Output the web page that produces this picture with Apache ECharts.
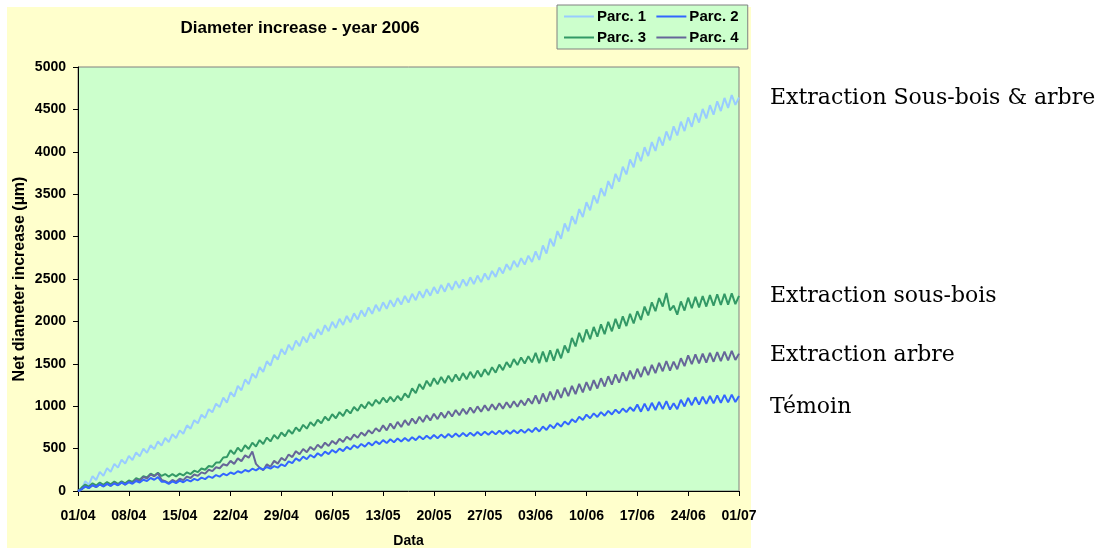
<!DOCTYPE html>
<html>
<head>
<meta charset="utf-8">
<script src="https://cdn.jsdelivr.net/npm/echarts@6/dist/echarts.min.js"></script>
<style>
  html, body { margin: 0; padding: 0; background: #ffffff; }
  #chart { width: 1109px; height: 549px; }
</style>
</head>
<body>
<div id="chart"></div>
<script>
// Net stem diameter increase (µm), readings every 12 hours from 01/04/2006 00:00 to 01/07/2006 00:00
const weekTickLabels = ['01/04', '08/04', '15/04', '22/04', '29/04', '06/05', '13/05', '20/05', '27/05', '03/06', '10/06', '17/06', '24/06', '01/07'];
const seriesNames = ['Parc. 1', 'Parc. 2', 'Parc. 3', 'Parc. 4'];
const treatmentNotes = ['Extraction Sous-bois & arbre', 'Extraction sous-bois', 'Extraction arbre', 'Témoin'];

const parc1 = [0,15, 115,75, 175,130, 225,178, 270,225, 320,275, 370,323, 415,365, 455,408, 500,450,
  540,493, 585,535, 625,578, 670,623, 715,675, 775,735, 835,798, 900,862, 965,928, 1030,990,
  1100,1043, 1165,1113, 1240,1188, 1315,1260, 1385,1333, 1460,1405, 1530,1478, 1605,1550, 1675,1610, 1725,1660,
  1775,1708, 1820,1753, 1865,1798, 1910,1843, 1955,1885, 1995,1923, 2030,1958, 2065,1990, 2095,2023, 2130,2058,
  2165,2090, 2195,2120, 2225,2148, 2250,2173, 2275,2198, 2300,2223, 2325,2250, 2355,2278, 2380,2303, 2405,2328,
  2430,2350, 2450,2373, 2475,2395, 2495,2418, 2520,2440, 2540,2463, 2565,2490, 2595,2525, 2635,2565, 2675,2605,
  2715,2640, 2745,2670, 2775,2700, 2825,2725, 2895,2800, 2975,2885, 3065,2975, 3155,3063, 3240,3148, 3325,3230,
  3405,3310, 3485,3393, 3570,3478, 3655,3563, 3740,3648, 3825,3733, 3910,3818, 3995,3890, 4055,3950, 4115,4010,
  4175,4073, 4240,4135, 4300,4193, 4355,4245, 4405,4295, 4455,4345, 4505,4393, 4550,4438, 4595,4480, 4635,4518,
  4670,4553, 4640];

const parc2 = [0,20, 52,35, 68,48, 78,55, 83,60, 88,68, 98,75, 103,85, 118,100, 133,118,
  153,133, 163,110, 108,85, 113,93, 123,103, 133,113, 143,126, 158,140, 173,155, 188,170,
  203,185, 218,200, 233,215, 248,230, 263,243, 273,253, 283,263, 293,275, 315,292, 350,328,
  385,355, 405,375, 425,395, 445,415, 465,435, 484,452, 500,470, 520,490, 540,508, 555,523,
  570,538, 585,553, 600,565, 610,575, 620,583, 625,590, 635,600, 645,609, 652,616, 660,623,
  665,628, 672,635, 678,641, 683,646, 688,651, 695,658, 700,663, 705,668, 710,672, 713,675,
  717,680, 722,686, 730,695, 745,702, 760,720, 780,740, 800,760, 820,783, 845,810, 875,838,
  901,858, 915,873, 930,888, 945,903, 960,917, 973,930, 987,944, 1020,935, 1030,945, 1040,955,
  1050,965, 1060,960, 1035,965, 1075,997, 1098,1012, 1105,1019, 1113,1027, 1120,1033, 1127,1040, 1133,1045,
  1137,1049, 1120];

const parc3 = [0,40, 75,52, 90,65, 100,73, 105,78, 110,83, 115,90, 125,108, 150,133, 175,160,
  205,180, 215,178, 200,170, 200,173, 205,183, 220,200, 240,223, 265,250, 295,285, 335,335,
  395,400, 480,435, 510,465, 540,495, 570,525, 600,555, 630,585, 660,615, 690,645, 720,675,
  750,705, 780,735, 810,768, 840,798, 875,830, 905,858, 930,885, 960,915, 990,945, 1020,975,
  1050,1003, 1075,1028, 1100,1045, 1110,1055, 1120,1070, 1150,1100, 1210,1155, 1260,1200, 1300,1235, 1330,1258,
  1345,1273, 1360,1288, 1375,1303, 1390,1318, 1405,1333, 1420,1348, 1435,1368, 1460,1395, 1490,1425, 1520,1458,
  1555,1485, 1575,1503, 1590,1518, 1630,1508, 1645,1523, 1660,1538, 1675,1565, 1715,1630, 1805,1705, 1865,1755,
  1905,1790, 1935,1820, 1965,1850, 1995,1883, 2030,1915, 2060,1945, 2090,1975, 2120,2018, 2175,2070, 2225,2120,
  2275,2175, 2335,2130, 2185,2080, 2235,2128, 2280,2155, 2290,2165, 2300,2175, 2310,2185, 2320,2193, 2325,2198,
  2330,2203, 2300];

const parc4 = [0,20, 55,33, 70,45, 80,54, 87,61, 95,69, 103,76, 110,93, 135,120, 165,150,
  195,173, 210,132, 115,93, 130,108, 145,128, 170,153, 195,178, 220,205, 250,235, 280,268,
  315,300, 355,320, 385,352, 420,393, 465,320, 275,245, 315,285, 355,323, 390,360, 430,400,
  470,433, 495,458, 520,483, 545,508, 570,531, 591,553, 615,578, 640,603, 665,628, 690,653,
  715,678, 740,702, 774,715, 795,735, 815,755, 835,775, 855,795, 875,814, 893,832, 911,848,
  925,863, 940,878, 955,893, 970,907, 985,922, 998,934, 1010,947, 1023,959, 1035,971, 1047,983,
  1059,994, 1069,1010, 1090,1029, 1128,1029, 1150,1052, 1173,1074, 1195,1097, 1218,1119, 1240,1142, 1263,1164,
  1285,1186, 1307,1209, 1330,1232, 1353,1254, 1375,1277, 1398,1299, 1420,1321, 1442,1344, 1465,1366, 1487,1389,
  1510,1412, 1533,1420, 1525,1435, 1565,1472, 1600,1495, 1610,1505, 1620,1515, 1630,1524, 1638,1532, 1645,1539,
  1652,1545, 1620];

const seriesValues = [parc1, parc2, parc3, parc4];
const seriesColors = ['#99CCFF', '#3366FF', '#339966', '#666699'];

// x position in days since 01/04 (two readings per day)
function toPoints(values) {
  return values.map((v, i) => [i / 2, v]);
}

const sansFamily = 'Liberation Sans, Arial, sans-serif';
const sansBold = { fontFamily: sansFamily, fontWeight: 'bold', color: '#000000' };

const chart = echarts.init(document.getElementById('chart'), null, { renderer: 'canvas' });

const noteY = [100, 298, 357, 409];

chart.setOption({
  animation: false,
  backgroundColor: '#ffffff',
  title: {
    text: 'Diameter increase - year 2006',
    left: 295,
    top: 15,
    textAlign: 'center',
    textStyle: Object.assign({ fontSize: 17 }, sansBold)
  },
  legend: {
    data: seriesNames,
    left: 557,
    top: 5,
    width: 196,
    orient: 'horizontal',
    backgroundColor: '#CCFFCC',
    borderColor: '#808080',
    borderWidth: 1,
    padding: [4, 5, 4, 7],
    icon: 'rect',
    itemWidth: 30,
    itemHeight: 2,
    itemGap: 6,
    formatter: name => name + ' ',
    textStyle: Object.assign({ fontSize: 15, padding: [0, 0, 0, -2] }, sansBold)
  },
  grid: {
    left: 78,
    top: 67,
    right: 370,
    bottom: 58,
    outerBoundsMode: 'none',
    containLabel: false,
    show: true,
    backgroundColor: '#CCFFCC',
    borderColor: '#808080',
    borderWidth: 1
  },
  xAxis: {
    type: 'value',
    min: 0,
    max: 91,
    interval: 7,
    name: 'Data',
    nameLocation: 'middle',
    nameGap: 43,
    nameTextStyle: Object.assign({ fontSize: 14 }, sansBold),
    axisLine: { show: true, lineStyle: { color: '#000000', width: 1 } },
    axisTick: { show: true, length: 5, lineStyle: { color: '#000000' } },
    axisLabel: {
      margin: 18,
      fontSize: 14,
      fontFamily: sansFamily,
      fontWeight: 'bold',
      color: '#000000',
      formatter: v => weekTickLabels[Math.round(v / 7)]
    },
    splitLine: { show: false }
  },
  yAxis: {
    type: 'value',
    min: 0,
    max: 5000,
    interval: 500,
    name: 'Net diameter increase (µm)',
    nameLocation: 'middle',
    nameGap: 50,
    nameMoveOverlap: false,
    nameTextStyle: Object.assign({ fontSize: 16 }, sansBold),
    axisLine: { show: true, lineStyle: { color: '#000000', width: 1 } },
    axisTick: { show: true, length: 5, lineStyle: { color: '#000000' } },
    axisLabel: {
      margin: 12,
      fontSize: 14,
      fontFamily: sansFamily,
      fontWeight: 'bold',
      color: '#000000',
      formatter: v => String(v)
    },
    splitLine: { show: false }
  },
  graphic: [
    {
      type: 'rect',
      z: -10,
      silent: true,
      shape: { x: 7, y: 7, width: 744, height: 541 },
      style: { fill: '#FFFFCC' }
    }
  ].concat(treatmentNotes.map((t, i) => ({
    type: 'text',
    left: 770,
    top: noteY[i] - 13,
    style: {
      text: t,
      fill: '#000000',
      font: '22px "DejaVu Serif", serif'
    }
  }))),
  series: seriesValues.map((vals, i) => ({
    name: seriesNames[i],
    type: 'line',
    data: toPoints(vals),
    symbol: 'none',
    smooth: false,
    color: seriesColors[i],
    lineStyle: { color: seriesColors[i], width: 2 },
    z: [2, 5, 3, 4][i]
  }))
});
</script>
</body>
</html>
